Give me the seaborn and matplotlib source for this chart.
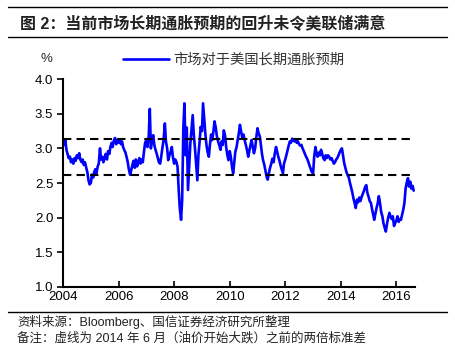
import matplotlib
matplotlib.use("Agg")
import matplotlib.dates as mdates
import matplotlib.pyplot as plt
import numpy as np
import pandas as pd
import seaborn as sns

# semi-monthly readings, %
vals_2004 = [3.10, 3.05, 3.12, 2.98, 2.92, 2.86, 2.88, 2.80, 2.84, 2.78, 2.86, 2.82,
             2.90, 2.86, 2.93, 2.84, 2.80, 2.84, 2.76, 2.80, 2.72, 2.66, 2.54, 2.48]
vals_2005 = [2.50, 2.62, 2.58, 2.66, 2.70, 2.64, 2.74, 2.78, 3.00, 2.84, 2.88, 2.80,
             2.86, 2.92, 2.84, 2.96, 2.92, 3.02, 3.08, 3.02, 3.12, 3.15, 3.06, 3.12]
vals_2006 = [3.08, 3.12, 3.06, 3.10, 3.02, 2.98, 2.94, 2.88, 2.80, 2.70, 2.62, 2.68,
             2.76, 2.82, 2.72, 2.84, 2.74, 2.80, 2.86, 2.78, 2.84, 2.80, 2.96, 3.08]
vals_2007 = [3.12, 3.02, 3.18, 3.57, 3.00, 3.12, 3.19, 3.05, 2.98, 2.93, 2.86, 2.80,
             2.78, 2.88, 3.02, 3.12, 3.36, 3.10, 3.00, 2.83, 2.90, 2.95, 3.02, 2.88]
vals_2008 = [2.78, 2.84, 2.80, 2.73, 2.40, 2.14, 1.97, 2.25, 3.30, 3.65, 2.90, 3.30,
             2.40, 2.70, 3.07, 3.25, 3.48, 3.20, 3.00, 2.80, 2.54, 2.90, 3.10, 3.31]
vals_2009 = [3.25, 3.65, 3.40, 3.20, 3.05, 2.95, 2.88, 3.05, 3.20, 3.12, 3.25, 3.39,
             3.30, 3.18, 3.10, 3.05, 2.98, 3.10, 3.05, 3.26, 3.18, 3.02, 2.90, 2.83]
vals_2010 = [2.96, 2.88, 2.72, 2.64, 2.80, 2.95, 3.02, 3.12, 3.22, 3.34, 3.24, 3.15,
             3.20, 3.12, 3.05, 2.98, 2.88, 2.96, 3.05, 3.12, 3.02, 2.93, 3.00, 3.15]
vals_2011 = [3.29, 3.22, 3.17, 3.05, 2.92, 2.83, 2.76, 2.68, 2.59, 2.55, 2.65, 2.72,
             2.78, 2.85, 2.80, 2.92, 3.02, 2.96, 2.88, 2.83, 2.75, 2.70, 2.64, 2.78]
vals_2012 = [2.84, 2.90, 2.98, 3.04, 3.10, 3.08, 3.14, 3.12, 3.10, 3.13, 3.08, 3.10,
             3.06, 3.04, 3.05, 3.00, 2.96, 2.92, 2.88, 2.85, 2.80, 2.75, 2.70, 2.66]
vals_2013 = [2.64, 2.88, 3.02, 2.92, 2.88, 2.94, 2.90, 2.98, 2.92, 2.86, 2.83, 2.90,
             2.86, 2.90, 2.88, 2.84, 2.86, 2.82, 2.78, 2.80, 2.84, 2.86, 2.90, 2.94]
vals_2014 = [2.98, 3.00, 2.88, 2.78, 2.72, 2.66, 2.61, 2.58, 2.50, 2.44, 2.36, 2.28,
             2.21, 2.14, 2.26, 2.22, 2.29, 2.24, 2.30, 2.34, 2.39, 2.44, 2.47, 2.36]
vals_2015 = [2.30, 2.24, 2.21, 2.12, 2.05, 1.97, 2.06, 2.14, 2.21, 2.31, 2.20, 2.08,
             2.02, 1.92, 1.85, 1.80, 1.92, 2.00, 2.07, 2.02, 1.98, 2.02, 1.88, 1.92]
vals_2016 = [1.96, 2.02, 1.94, 1.98, 1.97, 2.04, 2.12, 2.21, 2.42, 2.50, 2.57, 2.45,
             2.52, 2.42, 2.46, 2.39]

band_upper = 3.14
band_lower = 2.61

years = list(range(2004, 2017, 2))
yticks = [1.0, 1.5, 2.0, 2.5, 3.0, 3.5, 4.0]

title = "图 2：当前市场长期通胀预期的回升未令美联储满意"
series_name = "市场对于美国长期通胀预期"
source = "资料来源：Bloomberg、国信证券经济研究所整理"
note = "备注：虚线为 2014 年 6 月（油价开始大跌）之前的两倍标准差"

values = (vals_2004 + vals_2005 + vals_2006 + vals_2007 + vals_2008 + vals_2009
          + vals_2010 + vals_2011 + vals_2012 + vals_2013 + vals_2014 + vals_2015
          + vals_2016)
df = pd.DataFrame({
    "date": pd.date_range("2004-01-01", periods=len(values), freq="SMS"),
    "value": values,
})

sns.set_theme(style="white")
cjk = ["Liberation Sans", "Noto Sans CJK SC", "DejaVu Sans"]
plt.rcParams["font.family"] = cjk

fig = plt.figure(figsize=(4.55, 3.53), dpi=100)
ax = fig.add_axes([0.1385, 0.187, 0.912 - 0.1385, 0.776 - 0.187])

sns.lineplot(data=df, x="date", y="value", ax=ax, color="#0000FF",
             linewidth=1.9, label=series_name, legend=False)
for lvl in (band_upper, band_lower):
    ax.axhline(lvl, color="black", linewidth=1.5, linestyle=(0, (4, 2.5)))

ax.set_xlim(pd.Timestamp("2004-01-01"), pd.Timestamp("2016-09-01"))
ax.set_ylim(1.0, 4.0)
ax.set_xticks([pd.Timestamp(f"{y}-01-01") for y in years])
ax.xaxis.set_major_formatter(mdates.DateFormatter("%Y"))
ax.set_yticks(yticks)
ax.set_yticklabels([f"{t:.1f}" for t in yticks])
ax.set_xlabel("")
ax.set_ylabel("")

for side in ("top", "right"):
    ax.spines[side].set_visible(False)
for side in ("left", "bottom"):
    ax.spines[side].set_color("black")
    ax.spines[side].set_linewidth(1.5)
ax.tick_params(axis="y", direction="out", length=4, width=1.2, colors="black",
               labelsize=9.5, pad=3, left=True)
ax.tick_params(axis="x", direction="in", length=4, width=1.2, colors="black",
               labelsize=9.5, pad=3, bottom=True)

fig.text(46 / 455, 1 - 59 / 353, "%", ha="center", va="center", fontsize=9.5)

leg = ax.legend(loc="center left", bbox_to_anchor=(123 / 455, 1 - 60 / 353),
                bbox_transform=fig.transFigure, frameon=False, handlelength=3.2,
                handletextpad=0.3, borderaxespad=0, borderpad=0,
                prop={"family": ["Noto Sans CJK SC"], "size": 10.3})
for t in leg.get_texts():
    t.set_color("#333333")

fig.text(20 / 455, 1 - 23 / 353, title, ha="left", va="center", fontsize=11.5,
         fontweight="bold", color="#222222", family=cjk)
for yy in (7, 37, 312):
    fig.add_artist(plt.Line2D([8 / 455, 447 / 455], [1 - yy / 353] * 2,
                              color="black", linewidth=1.0))
fig.text(17 / 455, 1 - 322 / 353, source, ha="left", va="center", fontsize=9,
         color="#222222", family=cjk)
fig.text(17 / 455, 1 - 338 / 353, note, ha="left", va="center", fontsize=9,
         color="#222222", family=cjk)

fig.savefig("out.png", dpi=100)
